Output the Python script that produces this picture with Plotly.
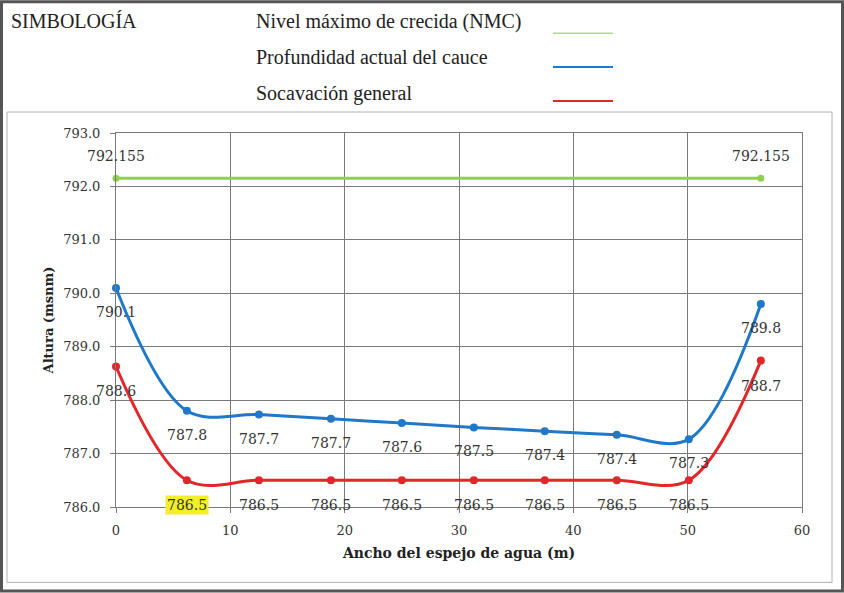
import plotly.graph_objects as go

# ---- data ----
x_vals = [0, 6.2, 12.5, 18.8, 25.0, 31.3, 37.5, 43.8, 50.1, 56.4]
cauce = [790.1, 787.8, 787.73, 787.65, 787.57, 787.49, 787.42, 787.35, 787.27, 789.8]
cauce_labels = ["790.1", "787.8", "787.7", "787.7", "787.6", "787.5", "787.4", "787.4", "787.3", "789.8"]
socav = [788.63, 786.5, 786.5, 786.5, 786.5, 786.5, 786.5, 786.5, 786.5, 788.74]
socav_labels = ["788.6", "786.5", "786.5", "786.5", "786.5", "786.5", "786.5", "786.5", "786.5", "788.7"]
nmc_x = [0, 56.4]
nmc = [792.155, 792.155]
nmc_labels = ["792.155", "792.155"]
x_ticks = [0, 10, 20, 30, 40, 50, 60]
y_ticks = [786, 787, 788, 789, 790, 791, 792, 793]
legend_title = "SIMBOLOGÍA"
legend_names = ["Nivel máximo de crecida (NMC)", "Profundidad actual del cauce", "Socavación general"]

GREEN = "#8fd04e"
BLUE = "#1f78c9"
RED = "#e3262a"
W, H = 844, 593
L, R, T, B = 116, 802, 133, 507.5

def px(xp):
    return (xp - L) / (R - L)

def py(yp):
    return (B - yp) / (B - T)

fig = go.Figure()
fig.add_trace(go.Scatter(x=nmc_x, y=nmc, mode="lines+markers", line=dict(color=GREEN, width=3),
                         marker=dict(size=7, color=GREEN), cliponaxis=False, showlegend=False))
fig.add_trace(go.Scatter(x=x_vals, y=cauce, mode="lines+markers",
                         line=dict(color=BLUE, width=3, shape="spline", smoothing=1),
                         marker=dict(size=8, color=BLUE), cliponaxis=False, showlegend=False))
fig.add_trace(go.Scatter(x=x_vals, y=socav, mode="lines+markers",
                         line=dict(color=RED, width=3, shape="spline", smoothing=1),
                         marker=dict(size=8, color=RED), cliponaxis=False, showlegend=False))

annots = []
lab_font = dict(family="DejaVu Serif", size=14, color="#333333")
for xv, yv, t in zip(x_vals, cauce, cauce_labels):
    annots.append(dict(x=xv, y=yv, text=t, showarrow=False, yshift=-24, font=lab_font))
for i, (xv, yv, t) in enumerate(zip(x_vals, socav, socav_labels)):
    a = dict(x=xv, y=yv, text=t, showarrow=False, yshift=-25, font=lab_font)
    if i == 1:
        a.update(bgcolor="#f2ee2a", borderpad=1)
    annots.append(a)
for xv, yv, t in zip(nmc_x, nmc, nmc_labels):
    annots.append(dict(x=xv, y=yv, text=t, showarrow=False, yshift=22, font=lab_font))

# legend block
serif = dict(family="Liberation Serif", size=20, color="#222222")
annots.append(dict(xref="paper", yref="paper", x=px(9), y=py(21), text=legend_title, showarrow=False,
                   xanchor="left", yanchor="middle", font=serif))
leg_y = [21, 57, 93]
leg_line_y = [33, 67, 101]
shapes = []
for name, yy, ly, c in zip(legend_names, leg_y, leg_line_y, ["#b5d98a", BLUE, RED]):
    annots.append(dict(xref="paper", yref="paper", x=px(254), y=py(yy), text=name, showarrow=False,
                       xanchor="left", yanchor="middle", font=serif))
    shapes.append(dict(type="line", xref="paper", yref="paper", x0=px(553), x1=px(613), y0=py(ly), y1=py(ly),
                       line=dict(color=c, width=2 if c != "#b5d98a" else 1.5)))

# inner frame & outer scan border
shapes.append(dict(type="rect", xref="paper", yref="paper", x0=px(7), x1=px(832), y0=py(583), y1=py(112),
                   line=dict(color="#b0b0b0", width=1), layer="below"))
shapes.append(dict(type="rect", xref="paper", yref="paper", x0=px(1.5), x1=px(842.5), y0=py(591.5), y1=py(1.5),
                   line=dict(color="#555555", width=3), layer="below"))

fig.update_layout(
    width=W, height=H,
    margin=dict(l=L, r=W - R, t=T, b=H - B),
    paper_bgcolor="white", plot_bgcolor="white",
    annotations=annots, shapes=shapes,
    xaxis=dict(range=[0, 60], tickvals=x_ticks, showgrid=True, gridcolor="#7a7a7a", gridwidth=1,
               zeroline=False, showline=True, linecolor="#7a7a7a", mirror=True,
               ticks="outside", ticklen=5, tickcolor="#7a7a7a", ticklabelstandoff=6,
               tickfont=dict(family="DejaVu Serif", size=13, color="#333333"),
               title=dict(text="<b>Ancho del espejo de agua (m)</b>", standoff=11,
                          font=dict(family="DejaVu Serif", size=14, color="#222222"))),
    yaxis=dict(range=[786, 793], tickvals=y_ticks, tickformat=".1f", showgrid=True, gridcolor="#7a7a7a",
               gridwidth=1, zeroline=False, showline=True, linecolor="#7a7a7a", mirror=True,
               ticks="outside", ticklen=5, tickcolor="#7a7a7a", ticklabelstandoff=7,
               tickfont=dict(family="DejaVu Serif", size=13, color="#333333"),
               title=dict(text="<b>Altura (msnm)</b>", standoff=6,
                          font=dict(family="DejaVu Serif", size=13, color="#222222"))),
)

fig.write_html("out.html", config={"displayModeBar": False},
               post_script="document.body.style.margin='0';document.body.style.overflow='hidden';")
